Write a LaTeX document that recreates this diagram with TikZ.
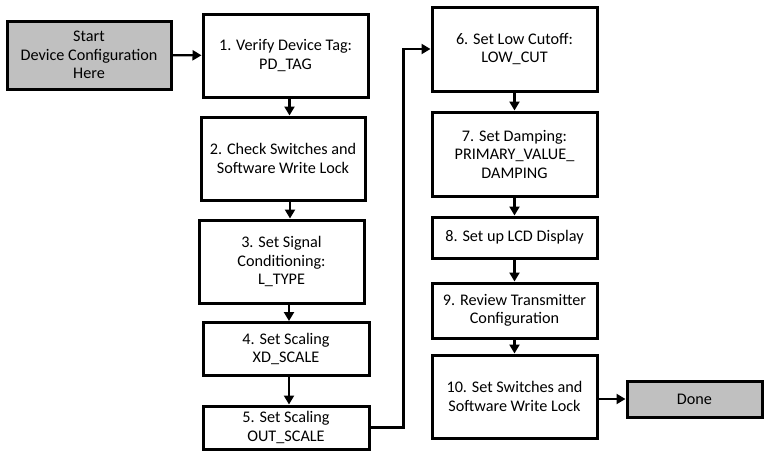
\documentclass[tikz,border=0pt]{standalone}
\usepackage{fontspec}
\setmainfont{Carlito}
\usepackage{tikz}
\usetikzlibrary{arrows.meta,positioning}
\definecolor{termgray}{RGB}{192,192,192}

\begin{document}
\begin{tikzpicture}[
        x=1pt,y=-1pt,
        font=\fontsize{16.2}{18.5}\selectfont,
        stepbox/.style={draw,line width=3pt,fill=white,align=center,inner sep=2pt},
        termbox/.style={stepbox,fill=termgray},
        flow/.style={-{Triangle[length=9pt,width=10pt]},line width=2.2pt}
    ]
        \useasboundingbox (0,0) rectangle (765,451);

        % entry and exit
        \node[termbox,minimum width=164pt,minimum height=68pt] (start) at (89,55) {Start\\Device Configuration\\Here};
        \node[termbox,minimum width=135pt,minimum height=36pt] (done) at (694.5,399) {Done};

        % left column
        \node[stepbox,minimum width=165pt,minimum height=83pt] (s1) at (285.5,55.5) {1. Verify Device Tag:\\PD\_TAG};
        \node[stepbox,minimum width=164pt,minimum height=83pt] (s2) at (283,158.5) {2. Check Switches and\\Software Write Lock};
        \node[stepbox,minimum width=165pt,minimum height=83pt] (s3) at (281.5,261.5) {3. Set Signal\\Conditioning:\\L\_TYPE};
        \node[stepbox,minimum width=166pt,minimum height=53pt] (s4) at (286,349) {4. Set Scaling\\XD\_SCALE};
        \node[stepbox,minimum width=166pt,minimum height=43pt] (s5) at (286,427.5) {5. Set Scaling\\OUT\_SCALE};

        % right column
        \node[stepbox,minimum width=165pt,minimum height=84pt] (s6) at (514.5,49) {6. Set Low Cutoff:\\LOW\_CUT};
        \node[stepbox,minimum width=165pt,minimum height=84pt] (s7) at (514.5,154) {7. Set Damping:\\PRIMARY\_VALUE\_\\DAMPING};
        \node[stepbox,minimum width=165pt,minimum height=41pt] (s8) at (514.5,237.5) {8. Set up LCD Display};
        \node[stepbox,minimum width=165pt,minimum height=55pt] (s9) at (514.5,310.5) {9. Review Transmitter\\Configuration};
        \node[stepbox,minimum width=165pt,minimum height=83pt] (s10) at (514.5,396.5) {10. Set Switches and\\Software Write Lock};

        \draw[flow] (start) -- (s1);
        \draw[flow] ([xshift=4pt]s1.south) -- ([xshift=4pt]s1.south |- s2.north);
        \draw[flow] ([xshift=7pt]s2.south) -- ([xshift=7pt]s2.south |- s3.north);
        \draw[flow] ([xshift=7.5pt]s3.south) -- ([xshift=7.5pt]s3.south |- s4.north);
        \draw[flow] ([xshift=3pt]s4.south) -- ([xshift=3pt]s4.south |- s5.north);
        \draw[flow] (s5.east) -- ++(33,0) |- (s6.west);
        \draw[flow] (s6) -- (s7);
        \draw[flow] (s7) -- (s8);
        \draw[flow] (s8) -- (s9);
        \draw[flow] (s9) -- (s10);
        \draw[flow] (s10.east |- done) -- (done);
    \end{tikzpicture}
\end{document}
